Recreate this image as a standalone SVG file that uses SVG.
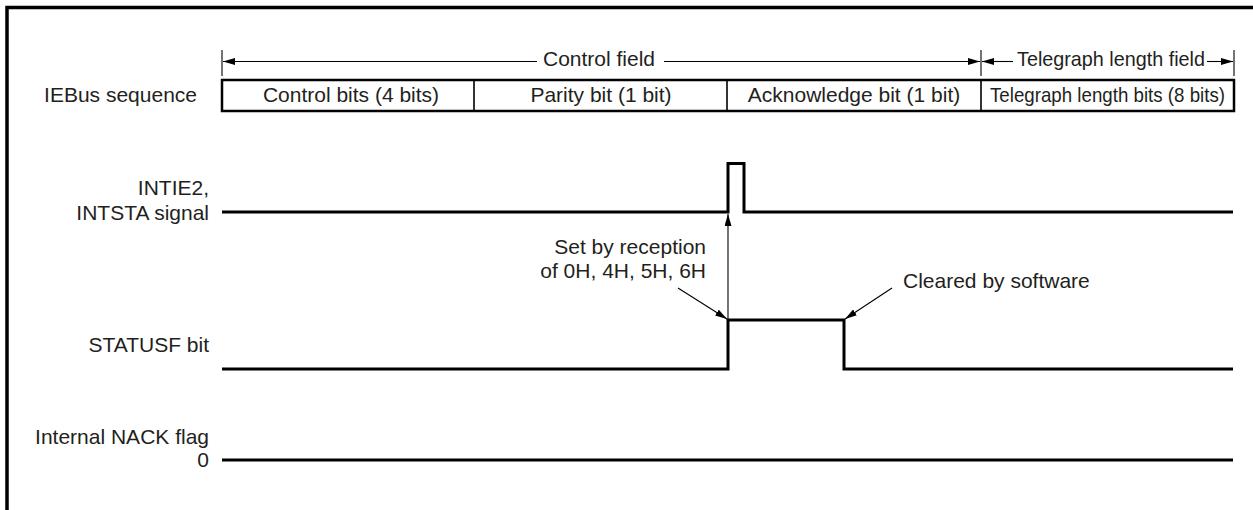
<svg xmlns="http://www.w3.org/2000/svg" width="1253" height="510" viewBox="0 0 1253 510">
  <style>
    text { font-family: "Liberation Sans", Arial, sans-serif; font-size: 21px; fill: #231f20; }
    .r { text-anchor: end; }
    .m { text-anchor: middle; }
    .frame { fill: none; stroke: #000; stroke-width: 3.5; }
    .box { fill: #fff; stroke: #000; stroke-width: 2.5; }
    .div { stroke: #000; stroke-width: 1.6; }
    .wave { fill: none; stroke: #000; stroke-width: 3; stroke-linejoin: miter; }
    .thin { fill: none; stroke: #000; stroke-width: 1.1; }
    .tick { stroke: #000; stroke-width: 1.1; }
  </style>
  <defs>
    <marker id="ah" markerUnits="userSpaceOnUse" markerWidth="13" markerHeight="8" refX="12" refY="3.5" orient="auto">
      <path d="M0,0 L12,3.5 L0,7 z" fill="#000"/>
    </marker>
  </defs>
  <rect width="1253" height="510" fill="#fff"/>
  <path class="frame" d="M7,510 V7.5 H1253"/>

  <g id="dimension-ticks">
    <line class="tick" x1="222" y1="50" x2="222" y2="76"/>
    <line class="tick" x1="981" y1="50" x2="981" y2="76"/>
    <line class="tick" x1="1234" y1="50" x2="1234" y2="76"/>
  </g>
  <g id="control-field-label"><text class="m" x="599" y="66">Control field</text></g>
  <g id="telegraph-field-label"><text x="1017" y="66" textLength="188" lengthAdjust="spacingAndGlyphs">Telegraph length field</text></g>

  <g id="ieb-sequence-label"><text class="r" x="197" y="102">IEBus sequence</text></g>
  <g id="sequence-box">
    <rect class="box" x="222" y="80" width="1012" height="31"/>
    <line class="div" x1="474" y1="80" x2="474" y2="111"/>
    <line class="div" x1="727" y1="80" x2="727" y2="111"/>
    <line class="div" x1="981" y1="80" x2="981" y2="111"/>
    <text class="m" x="351" y="102">Control bits (4 bits)</text>
    <text class="m" x="601" y="102">Parity bit (1 bit)</text>
    <text class="m" x="854" y="102">Acknowledge bit (1 bit)</text>
    <text x="990" y="102" textLength="235" lengthAdjust="spacingAndGlyphs">Telegraph length bits (8 bits)</text>
  </g>

  <g id="intie2-signal">
    <text class="r" x="209" y="195">INTIE2,</text>
    <text class="r" x="209" y="220">INTSTA signal</text>
    <path class="wave" d="M222,212 H728 V163.5 H744 V212 H1233"/>
  </g>

  <g id="statusf-bit">
    <text class="r" x="209" y="352">STATUSF bit</text>
    <path class="wave" d="M222,369 H728 V320 H844 V369 H1233"/>
  </g>

  <g id="internal-nack-flag">
    <text class="r" x="209" y="444">Internal NACK flag</text>
    <text class="r" x="209" y="467">0</text>
    <path class="wave" d="M222,460 H1233"/>
  </g>

  <g id="set-note">
    <text class="r" x="706" y="254">Set by reception</text>
    <text class="r" x="706" y="278">of 0H, 4H, 5H, 6H</text>
  </g>
  <g id="cleared-note">
    <text x="903" y="288">Cleared by software</text>
  </g>

  <g id="connectors">
    <path class="thin" d="M537,61.5 H223" marker-end="url(#ah)"/>
    <path class="thin" d="M664,61.5 H980" marker-end="url(#ah)"/>
    <path class="thin" d="M1013,61.5 H982" marker-end="url(#ah)"/>
    <path class="thin" d="M1207,61.5 H1233" marker-end="url(#ah)"/>
    <path class="thin" d="M728,319 V214" marker-end="url(#ah)"/>
    <path class="thin" d="M678,288 L727,319" marker-end="url(#ah)"/>
    <path class="thin" d="M892,288 L845,319" marker-end="url(#ah)"/>
  </g>
</svg>
